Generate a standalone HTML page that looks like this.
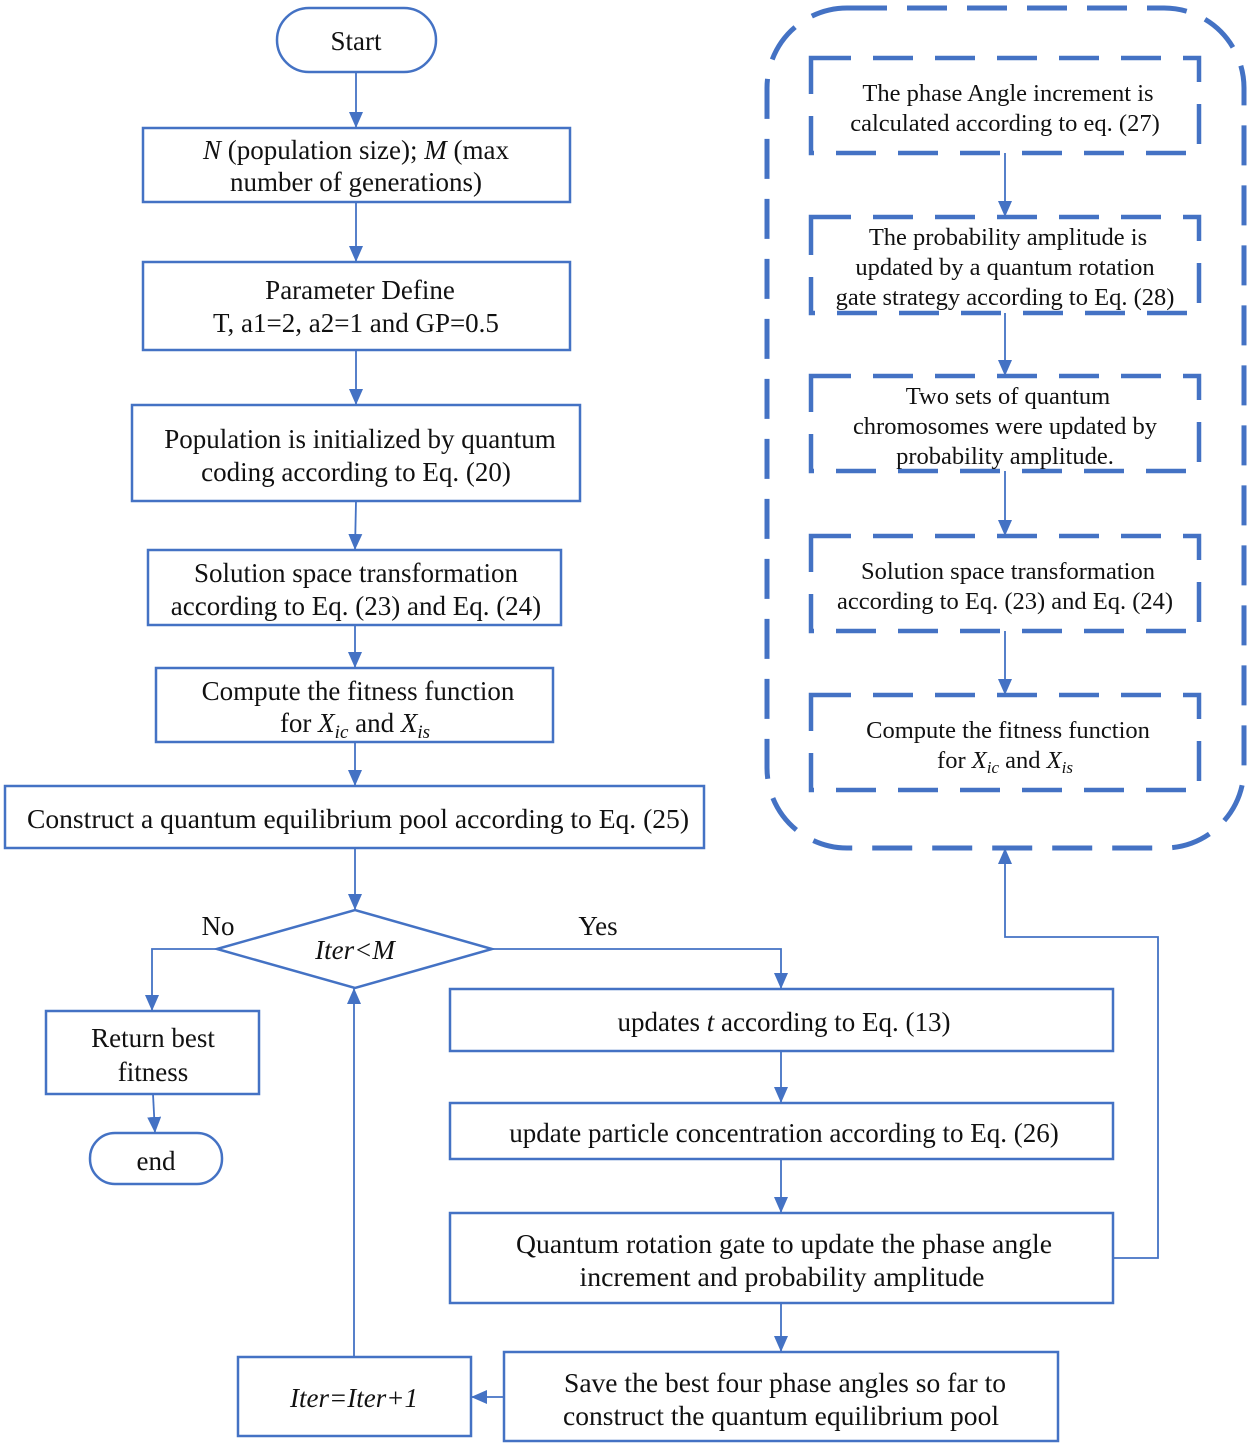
<!DOCTYPE html>
<html><head><meta charset="utf-8"><style>
html,body{margin:0;padding:0;background:#fff;}
svg{display:block;}
svg text{font-family:"Liberation Serif","Times New Roman","Tinos","DejaVu Serif",serif;fill:#111;}
.l{font-size:27px;}
.r{font-size:24.5px;}
</style></head><body>
<svg width="1250" height="1447" viewBox="0 0 1250 1447" xmlns="http://www.w3.org/2000/svg" font-family="Liberation Serif, Times New Roman, serif">
<defs>
<marker id="b" markerUnits="userSpaceOnUse" markerWidth="16" markerHeight="14" refX="16" refY="7" orient="auto" viewBox="0 0 16 14">
<path d="M0,0 L16,7 L0,14 Z" fill="#4472C4"/>
</marker>
</defs>
<g fill="none" stroke="#4472C4" stroke-width="2.5">
<rect x="277" y="8" width="159" height="64" rx="32"/>
<rect x="143" y="128" width="427" height="74"/>
<rect x="143" y="262" width="427" height="88"/>
<rect x="132" y="405" width="448" height="96"/>
<rect x="148" y="550" width="413" height="75"/>
<rect x="156" y="668" width="397" height="74"/>
<rect x="5" y="786" width="699" height="62"/>
<polygon points="217,949 355,910 492,949 355,988"/>
<rect x="46" y="1011" width="213" height="83"/>
<rect x="90" y="1133" width="132" height="51" rx="25"/>
<rect x="450" y="989" width="663" height="62"/>
<rect x="450" y="1103" width="663" height="56"/>
<rect x="450" y="1213" width="663" height="90"/>
<rect x="504" y="1352" width="554" height="89"/>
<rect x="238" y="1357" width="233" height="79"/>
</g>
<g fill="none" stroke="#4472C4" stroke-width="5" stroke-dasharray="40,20">
<rect x="767" y="8" width="477" height="840" rx="80"/>
</g>
<g fill="none" stroke="#4472C4" stroke-width="4.5" stroke-dasharray="40,22">
<rect x="811" y="58" width="388" height="95"/>
<rect x="811" y="217" width="388" height="96"/>
<rect x="811" y="376" width="388" height="95"/>
<rect x="811" y="536" width="388" height="95"/>
<rect x="811" y="695" width="388" height="95"/>
</g>
<g fill="none" stroke="#4472C4" stroke-width="1.8">
<line x1="356" y1="72" x2="356" y2="128" marker-end="url(#b)"/>
<line x1="356" y1="202" x2="356" y2="262" marker-end="url(#b)"/>
<line x1="356" y1="350" x2="356" y2="405" marker-end="url(#b)"/>
<line x1="356" y1="501" x2="355" y2="550" marker-end="url(#b)"/>
<line x1="355" y1="625" x2="355" y2="668" marker-end="url(#b)"/>
<line x1="355" y1="742" x2="355" y2="786" marker-end="url(#b)"/>
<line x1="355" y1="848" x2="355" y2="910" marker-end="url(#b)"/>
<polyline points="217,949 152,949 152,1011" marker-end="url(#b)"/>
<line x1="153" y1="1094" x2="155" y2="1133" marker-end="url(#b)"/>
<polyline points="492,949 781,949 781,989" marker-end="url(#b)"/>
<line x1="781" y1="1051" x2="781" y2="1103" marker-end="url(#b)"/>
<line x1="781" y1="1159" x2="781" y2="1213" marker-end="url(#b)"/>
<line x1="781" y1="1303" x2="781" y2="1352" marker-end="url(#b)"/>
<line x1="504" y1="1397" x2="471" y2="1397" marker-end="url(#b)"/>
<line x1="354" y1="1357" x2="354" y2="988" marker-end="url(#b)"/>
<polyline points="1113,1258 1158,1258 1158,937 1005,937 1005,848" marker-end="url(#b)"/>
<line x1="1005" y1="153" x2="1005" y2="217" marker-end="url(#b)"/>
<line x1="1005" y1="313" x2="1005" y2="376" marker-end="url(#b)"/>
<line x1="1005" y1="471" x2="1005" y2="536" marker-end="url(#b)"/>
<line x1="1005" y1="631" x2="1005" y2="695" marker-end="url(#b)"/>
</g>
<g text-anchor="middle" class="l">
<text x="356" y="50">Start</text>
<text x="356" y="159"><tspan font-style="italic">N</tspan> (population size); <tspan font-style="italic">M</tspan> (max</text>
<text x="356" y="191">number of generations)</text>
<text x="360" y="299">Parameter Define</text>
<text x="356" y="332">T, a1=2, a2=1 and GP=0.5</text>
<text x="360" y="448">Population is initialized by quantum</text>
<text x="356" y="481">coding according to Eq. (20)</text>
<text x="356" y="582">Solution space transformation</text>
<text x="356" y="615">according to Eq. (23) and Eq. (24)</text>
<text x="358" y="700">Compute the fitness function</text>
<text x="355" y="732">for <tspan font-style="italic">X</tspan><tspan font-style="italic" font-size="19" dy="6">ic</tspan><tspan dy="-6"> and </tspan><tspan font-style="italic">X</tspan><tspan font-style="italic" font-size="19" dy="6">is</tspan></text>
<text x="358" y="828" textLength="662" lengthAdjust="spacingAndGlyphs">Construct a quantum equilibrium pool according to Eq. (25)</text>
<text x="355" y="959" font-style="italic">Iter&lt;M</text>
<text x="218" y="935">No</text>
<text x="598" y="935">Yes</text>
<text x="153" y="1047">Return best</text>
<text x="153" y="1081">fitness</text>
<text x="156" y="1170">end</text>
<text x="784" y="1031">updates <tspan font-style="italic">t</tspan> according to Eq. (13)</text>
<text x="784" y="1142">update particle concentration according to Eq. (26)</text>
<text x="784" y="1253" textLength="536" lengthAdjust="spacingAndGlyphs">Quantum rotation gate to update the phase angle</text>
<text x="782" y="1286" textLength="405" lengthAdjust="spacingAndGlyphs">increment and probability amplitude</text>
<text x="785" y="1392" textLength="442" lengthAdjust="spacingAndGlyphs">Save the best four phase angles so far to</text>
<text x="781" y="1425" textLength="436" lengthAdjust="spacingAndGlyphs">construct the quantum equilibrium pool</text>
<text x="354" y="1407" font-style="italic">Iter=Iter+1</text>
</g>
<g text-anchor="middle" class="r">
<text x="1008" y="101">The phase Angle increment is</text>
<text x="1005" y="131">calculated according to eq. (27)</text>
<text x="1008" y="245">The probability amplitude is</text>
<text x="1005" y="275">updated by a quantum rotation</text>
<text x="1005" y="305">gate strategy according to Eq. (28)</text>
<text x="1008" y="404">Two sets of quantum</text>
<text x="1005" y="434">chromosomes were updated by</text>
<text x="1005" y="464">probability amplitude.</text>
<text x="1008" y="579">Solution space transformation</text>
<text x="1005" y="609">according to Eq. (23) and Eq. (24)</text>
<text x="1008" y="738">Compute the fitness function</text>
<text x="1005" y="768">for <tspan font-style="italic">X</tspan><tspan font-style="italic" font-size="17" dy="5">ic</tspan><tspan dy="-5"> and </tspan><tspan font-style="italic">X</tspan><tspan font-style="italic" font-size="17" dy="5">is</tspan></text>
</g>
</svg>
</body></html>
